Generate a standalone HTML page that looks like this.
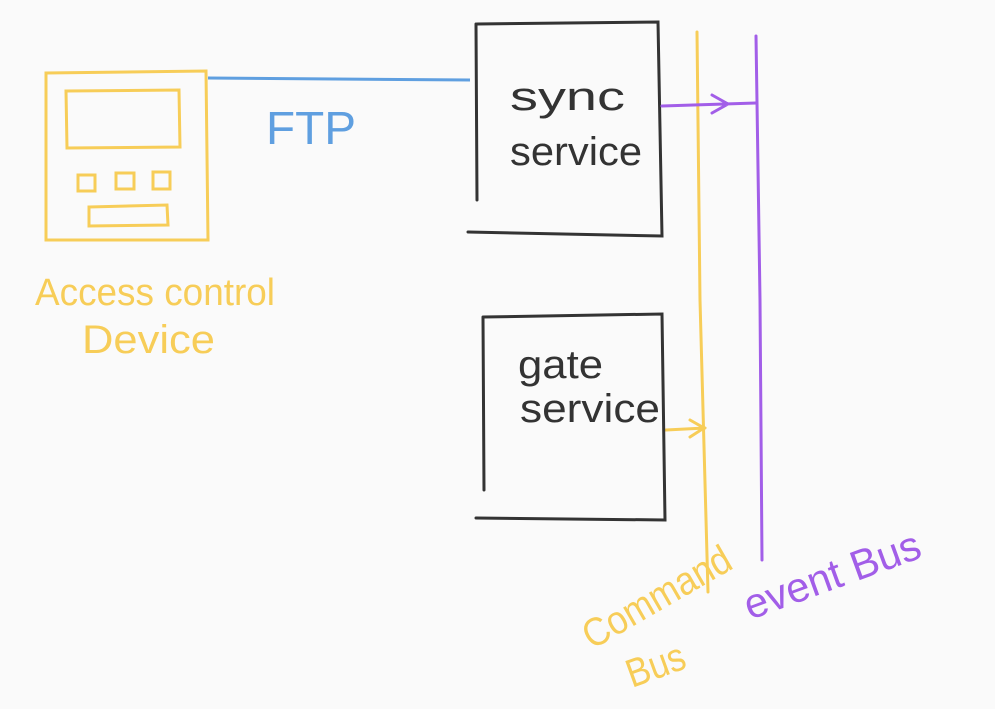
<!DOCTYPE html>
<html><head><meta charset="utf-8"><style>
html,body{margin:0;padding:0;background:#fafafa;}
svg{display:block}
text{font-family:"Liberation Sans",sans-serif;}
</style></head><body>
<svg width="995" height="709" viewBox="0 0 995 709" xmlns="http://www.w3.org/2000/svg">
<rect width="995" height="709" fill="#fafafa"/>
<g fill="none" stroke="#f7cd58" stroke-width="3" stroke-linecap="round">
<path d="M46 73 L206 71 L208 240 L46 240 Z"/>
<path d="M66 91 L179 90 L180 147 L67 148 Z"/>
<rect x="78" y="175" width="17" height="16"/>
<rect x="116" y="173" width="18" height="16"/>
<rect x="153" y="172" width="17" height="17"/>
<path d="M89 207 L167 205 L168 225 L89 226 Z"/>
<path d="M697 32 L700 300 L708 592"/>
<path d="M666 430 L705 428 M690 420 L704 428 L690 437"/>
</g>
<text x="35" y="305" font-size="38" fill="#f7cd58" textLength="240" lengthAdjust="spacingAndGlyphs">Access control</text>
<text x="82" y="353" font-size="40" fill="#f7cd58" textLength="133" lengthAdjust="spacingAndGlyphs">Device</text>
<path d="M208 78 L470 80" stroke="#5f9fe0" stroke-width="3" fill="none"/>
<text x="266" y="144" font-size="46" fill="#5f9fe0" textLength="90" lengthAdjust="spacingAndGlyphs">FTP</text>
<g fill="none" stroke="#333" stroke-width="3" stroke-linecap="round">
<path d="M477 24 L658 22 L662 236 L468 232 M476 24 L477 200"/>
<path d="M483 317 L662 314 L665 520 L476 518 M483 317 L484 490"/>
</g>
<text x="510" y="110" font-size="40" fill="#333" textLength="115" lengthAdjust="spacingAndGlyphs">sync</text>
<text x="510" y="165" font-size="40" fill="#333" textLength="132" lengthAdjust="spacingAndGlyphs">service</text>
<text x="518" y="378" font-size="40" fill="#333" textLength="85" lengthAdjust="spacingAndGlyphs">gate</text>
<text x="520" y="422" font-size="40" fill="#333" textLength="140" lengthAdjust="spacingAndGlyphs">service</text>
<g fill="none" stroke="#a25ee8" stroke-width="3" stroke-linecap="round">
<path d="M756 36 L760 300 L762 560"/>
<path d="M662 106 L756 103 M712 95 L728 104 L712 113"/>
</g>
<text font-size="40" fill="#f7cd58" transform="translate(592,650) rotate(-30)" textLength="165" lengthAdjust="spacingAndGlyphs">Command</text>
<text font-size="40" fill="#f7cd58" transform="translate(632,688) rotate(-20)" textLength="60" lengthAdjust="spacingAndGlyphs">Bus</text>
<text font-size="42" fill="#a25ee8" transform="translate(750,620) rotate(-20)" textLength="185" lengthAdjust="spacingAndGlyphs">event Bus</text>
</svg>
</body></html>
